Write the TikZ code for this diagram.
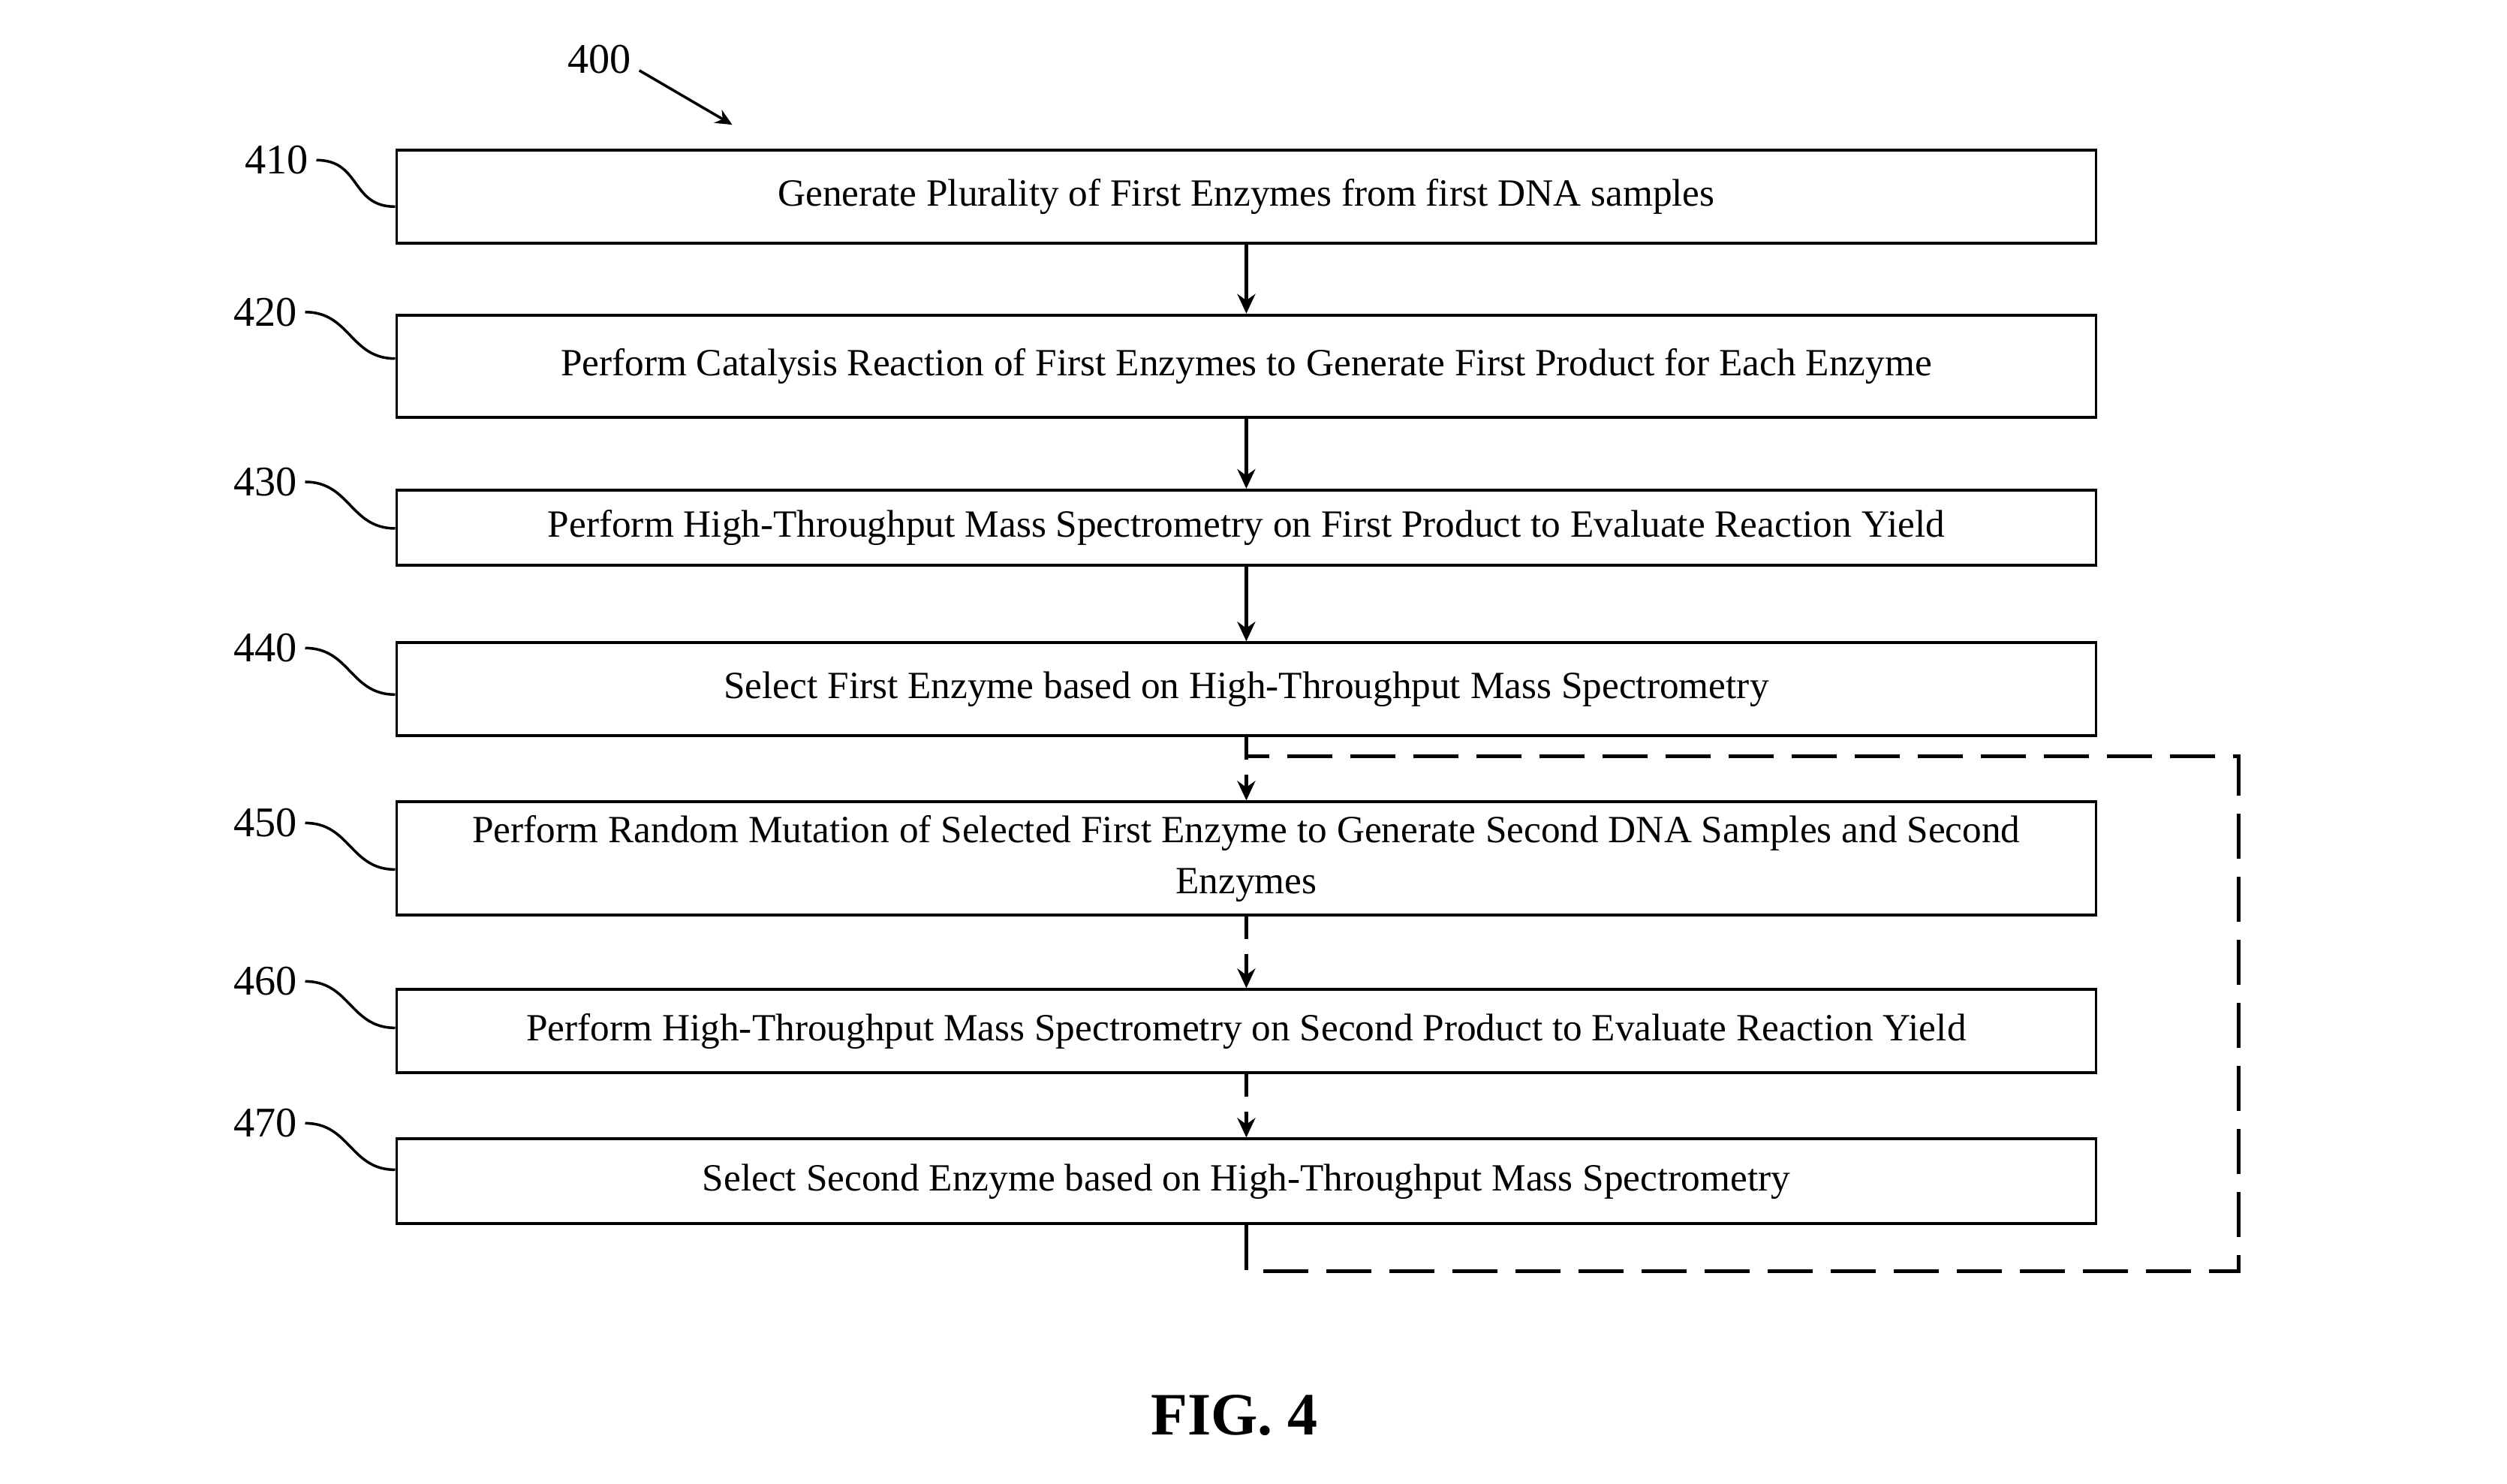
\documentclass[tikz,border=0pt]{standalone}
\usepackage{fontspec}
\setmainfont{Liberation Serif}
\usetikzlibrary{arrows.meta, positioning}

\tikzset{
    stepbox/.style = {draw, line width=1.1pt, minimum width=22.64cm, inner sep=0pt,
        align=center, font=\fontsize{14.6}{19.5}\selectfont},
    refnum/.style = {font=\fontsize{16}{18}\selectfont, inner sep=0pt, anchor=east},
    leader/.style = {line width=1pt},
    flow/.style = {-{Stealth[length=2.6mm, width=2.4mm]}, line width=1.4pt},
    dflow/.style = {flow, dash pattern=on 0.3cm off 0.2cm},
    loopline/.style = {line width=1.5pt, dash pattern=on 0.6cm off 0.24cm},
}

\begin{document}
\begin{tikzpicture} [x=0.0213cm, y=-0.0213cm, on grid]
    \useasboundingbox (0,0) rectangle (1568,928);

    % process steps
    \node (s410) [stepbox, minimum height=1.235cm] at (779.5,123) {Generate Plurality of First Enzymes from first DNA samples};
    \node (s420) [stepbox, minimum height=1.363cm, below=2.258cm of s410] {Perform Catalysis Reaction of First Enzymes to Generate First Product for Each Enzyme};
    \node (s430) [stepbox, minimum height=1.0cm, below=2.151cm of s420] {Perform High-Throughput Mass Spectrometry on First Product to Evaluate Reaction Yield};
    \node (s440) [stepbox, minimum height=1.235cm, below=2.151cm of s430] {Select First Enzyme based on High-Throughput Mass Spectrometry};
    \node (s450) [stepbox, minimum height=1.51cm, below=2.258cm of s440] {Perform Random Mutation of Selected First Enzyme to Generate Second DNA Samples and Second\\Enzymes};
    \node (s460) [stepbox, minimum height=1.11cm, below=2.30cm of s450] {Perform High-Throughput Mass Spectrometry on Second Product to Evaluate Reaction Yield};
    \node (s470) [stepbox, minimum height=1.13cm, below=2.0cm of s460] {Select Second Enzyme based on High-Throughput Mass Spectrometry};

    % reference numerals
    \node (l410) [refnum] at ([xshift=-1.15cm, yshift=-0.15cm] s410.north west) {410};
    \node (l420) [refnum] at ([xshift=-1.3cm, yshift=0.02cm] s420.north west) {420};
    \node (l430) [refnum] at ([xshift=-1.3cm, yshift=0.09cm] s430.north west) {430};
    \node (l440) [refnum] at ([xshift=-1.3cm, yshift=-0.09cm] s440.north west) {440};
    \node (l450) [refnum] at ([xshift=-1.3cm, yshift=-0.30cm] s450.north west) {450};
    \node (l460) [refnum] at ([xshift=-1.3cm, yshift=0.09cm] s460.north west) {460};
    \node (l470) [refnum] at ([xshift=-1.3cm, yshift=0.19cm] s470.north west) {470};

    \draw [leader] ([xshift=1mm] l410.east) .. controls +(0.6cm,0) and +(-0.6cm,0) .. ([yshift=-0.62cm] l410.east -| s410.west);
    \draw [leader] ([xshift=1mm] l420.east) .. controls +(0.6cm,0) and +(-0.6cm,0) .. ([yshift=-0.62cm] l420.east -| s420.west);
    \draw [leader] ([xshift=1mm] l430.east) .. controls +(0.6cm,0) and +(-0.6cm,0) .. ([yshift=-0.62cm] l430.east -| s430.west);
    \draw [leader] ([xshift=1mm] l440.east) .. controls +(0.6cm,0) and +(-0.6cm,0) .. ([yshift=-0.62cm] l440.east -| s440.west);
    \draw [leader] ([xshift=1mm] l450.east) .. controls +(0.6cm,0) and +(-0.6cm,0) .. ([yshift=-0.62cm] l450.east -| s450.west);
    \draw [leader] ([xshift=1mm] l460.east) .. controls +(0.6cm,0) and +(-0.6cm,0) .. ([yshift=-0.62cm] l460.east -| s460.west);
    \draw [leader] ([xshift=1mm] l470.east) .. controls +(0.6cm,0) and +(-0.6cm,0) .. ([yshift=-0.62cm] l470.east -| s470.west);

    % figure number
    \node (n400) [refnum, anchor=center] at (375,37) {400};
    \coordinate (a400) at (458,78);
    \draw [-{Stealth[length=2.2mm, width=2mm]}, line width=1pt] ([xshift=1mm, yshift=-1.5mm] n400.east) -- (a400);

    % flow
    \draw [flow] (s410) -- (s420);
    \draw [flow] (s420) -- (s430);
    \draw [flow] (s430) -- (s440);
    \draw [dflow] (s440) -- (s450);
    \draw [dflow] (s450) -- (s460);
    \draw [dflow] (s460) -- (s470);

    % repeat loop
    \coordinate (loopbot) at (1400,795);
    \coordinate (looptop) at (1400,473);
    \draw [loopline] (s470.south) |- (loopbot) -- (looptop) -- (looptop -| s450.north);

    \node (fig) [font=\fontsize{22.8}{26}\selectfont\bfseries] at (772,885) {FIG. 4};
\end{tikzpicture}
\end{document}
